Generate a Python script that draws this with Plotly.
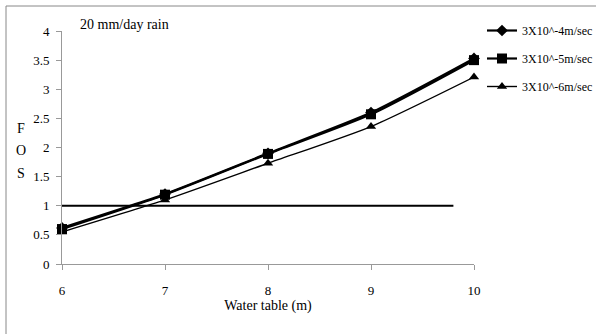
import plotly.graph_objects as go

water_table = [6, 7, 8, 9, 10]
fos_4 = [0.62, 1.20, 1.90, 2.60, 3.53]
fos_5 = [0.60, 1.19, 1.89, 2.57, 3.50]
fos_6 = [0.55, 1.10, 1.73, 2.36, 3.21]
series_names = ["3X10^-4m/sec", "3X10^-5m/sec", "3X10^-6m/sec"]
limit_x = [6, 9.8]
limit_y = [1, 1]

FONT = "Times New Roman, Liberation Serif, serif"
fig = go.Figure()

fig.add_trace(go.Scatter(x=limit_x, y=limit_y, mode="lines",
                         line=dict(color="black", width=2), showlegend=False,
                         hoverinfo="skip"))

specs = [(fos_4, "diamond", 9, 2.2), (fos_5, "square", 10, 2.2), (fos_6, "triangle-up", 9, 1.4)]
for i, (vals, sym, ms, lw) in enumerate(specs):
    fig.add_trace(go.Scatter(
        x=water_table, y=vals, mode="lines+markers", name=series_names[i],
        line=dict(color="black", width=lw, shape="spline", smoothing=0.6),
        marker=dict(symbol=sym, size=ms, color="black"),
        cliponaxis=False, legendgroup=f"g{i}"))

fig.update_layout(
    width=596, height=334,
    margin=dict(l=62, r=122, t=31, b=70, autoexpand=False),
    paper_bgcolor="white", plot_bgcolor="white",
    font=dict(family=FONT, size=13, color="black"),
    xaxis=dict(range=[6, 10], tickvals=water_table, showgrid=False, zeroline=False,
               showline=True, linecolor="#999999", linewidth=1,
               ticks="outside", ticklen=5, tickcolor="#999999",
               ticklabelstandoff=9, automargin=False,
               tickfont=dict(family=FONT, size=13),
               title=dict(text="Water table (m)", font=dict(family=FONT, size=14), standoff=2)),
    yaxis=dict(range=[0, 4], dtick=0.5, showgrid=False, zeroline=False,
               showline=True, linecolor="#999999", linewidth=1,
               ticks="outside", ticklen=5, tickcolor="#999999",
               ticklabelstandoff=4, automargin=False,
               tickfont=dict(family=FONT, size=13)),
    legend=dict(xref="container", yref="container", x=482 / 596, y=1 - 16 / 334,
                xanchor="left", yanchor="top",
                font=dict(family=FONT, size=12), tracegroupgap=9,
                bgcolor="rgba(0,0,0,0)", itemwidth=30),
    showlegend=True,
)

fig.add_annotation(text="20 mm/day rain", xref="paper", yref="paper",
                   x=(78 - 62) / 412, y=(264 - 25) / 233, xanchor="left", yanchor="middle",
                   showarrow=False, font=dict(family=FONT, size=14))

for txt, py in [("F", 128), ("O", 150), ("S", 173)]:
    fig.add_annotation(text=txt, xref="paper", yref="paper",
                       x=(21 - 62) / 412, y=(264 - py) / 233, xanchor="center", yanchor="middle",
                       showarrow=False, font=dict(family=FONT, size=14))

# outer frame (left and top edges visible)
fig.add_shape(type="line", xref="paper", yref="paper",
              x0=(6 - 62) / 412, x1=(6 - 62) / 412, y0=(264 - 334) / 233, y1=(264 - 6) / 233,
              line=dict(color="#888888", width=1))
fig.add_shape(type="line", xref="paper", yref="paper",
              x0=(6 - 62) / 412, x1=(596 - 62) / 412, y0=(264 - 6) / 233, y1=(264 - 6) / 233,
              line=dict(color="#888888", width=1))

fig.write_html("out.html", config={"displayModeBar": False},
               post_script="document.body.style.margin='0';")
